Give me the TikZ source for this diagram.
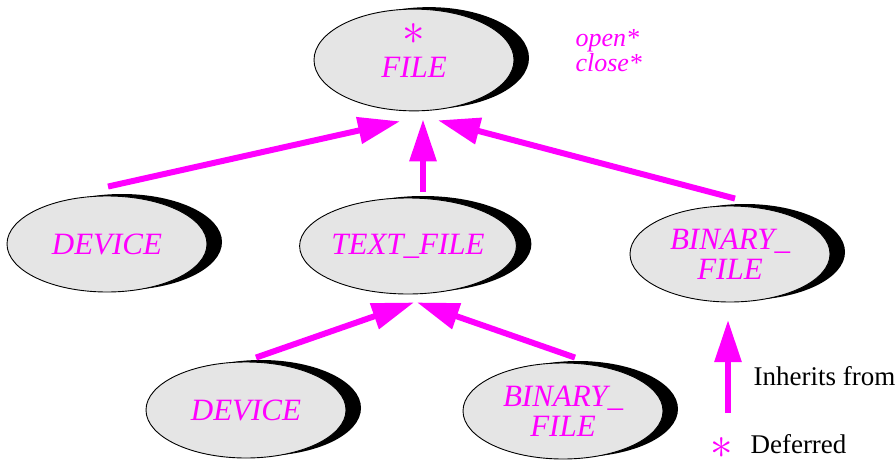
\documentclass[tikz,border=0pt]{standalone}
\usepackage{fontspec}
\setmainfont{Liberation Serif}
\usepackage{xcolor}
\usepackage{graphicx}
\usepackage{tikz}
\usetikzlibrary{shapes.geometric,shadows,arrows.meta}
\definecolor{imag}{HTML}{FF00FF}
\definecolor{egray}{HTML}{E5E5E5}
\newcommand{\dstar}{{\normalsize\scalebox{4.5}{$\ast$}}}
\tikzset{
  cls/.style={ellipse, draw=black, line width=0.9pt, fill=egray, minimum width=200pt,
              minimum height=96pt, inner sep=0pt, align=center, text=imag,
              font=\fontsize{31}{30}\selectfont\itshape,
              drop shadow={shadow xshift=15pt, shadow yshift=2pt, opacity=1, fill=black}},
  inh/.style={draw=imag, line width=6pt, -{Triangle[length=42pt,width=26pt]}},
  lgtext/.style={font=\fontsize{27}{27}\selectfont, anchor=base west},
}

\begin{document}
\begin{tikzpicture}[x=1pt, y=1pt]
    \useasboundingbox (0,0) rectangle (896,459);

    % --- classes ---------------------------------------------------------
    \node[cls] (file)    at (414,399) {\dstar\\[3pt]FILE\rule[-18pt]{0pt}{0pt}};
    \node[cls] (devA)    at (107,215) {DEVICE};
    \node[cls] (textf)   at (408,213) {TEXT\_FILE};
    \node[cls] (binA)    at (730,205) {BINARY\_\\FILE};
    \node[cls] (devB)    at (246,49)  {DEVICE};
    \node[cls] (binB)    at (563,48)  {BINARY\_\\FILE};

    % --- features of FILE ------------------------------------------------
    \node[text=imag, font=\fontsize{26}{25}\selectfont\itshape, align=left, anchor=west]
      (feat) at (572,408) {open*\\close*};

    % --- inheritance ----------------------------------------------------
    \draw[inh] ([shift={(1,9)}]devA.north)  -- ([shift={(-14,-10)}]file.south);
    \draw[inh] ([shift={(15,6)}]textf.north) -- ([shift={(9,-8)}]file.south);
    \draw[inh] ([shift={(5,7)}]binA.north)  -- ([shift={(24,-9)}]file.south);
    \draw[inh] ([shift={(10,4)}]devB.north) -- ([shift={(6,-8)}]textf.south);
    \draw[inh] ([shift={(12,5)}]binB.north) -- ([shift={(9,-8)}]textf.south);

    % --- legend ---------------------------------------------------------
    \coordinate (lgfoot) at (728,46);
    \coordinate (lghead) at (728,139);
    \draw[inh] (lgfoot) -- (lghead);
    \node[lgtext] (lginh) at (750,74) {Inherits from};
    \node[text=imag, anchor=base, inner sep=0pt] (lgstar) at (722,1) {\dstar};
    \node[lgtext] (lgdef) at (747,6) {Deferred};
  \end{tikzpicture}
\end{document}
